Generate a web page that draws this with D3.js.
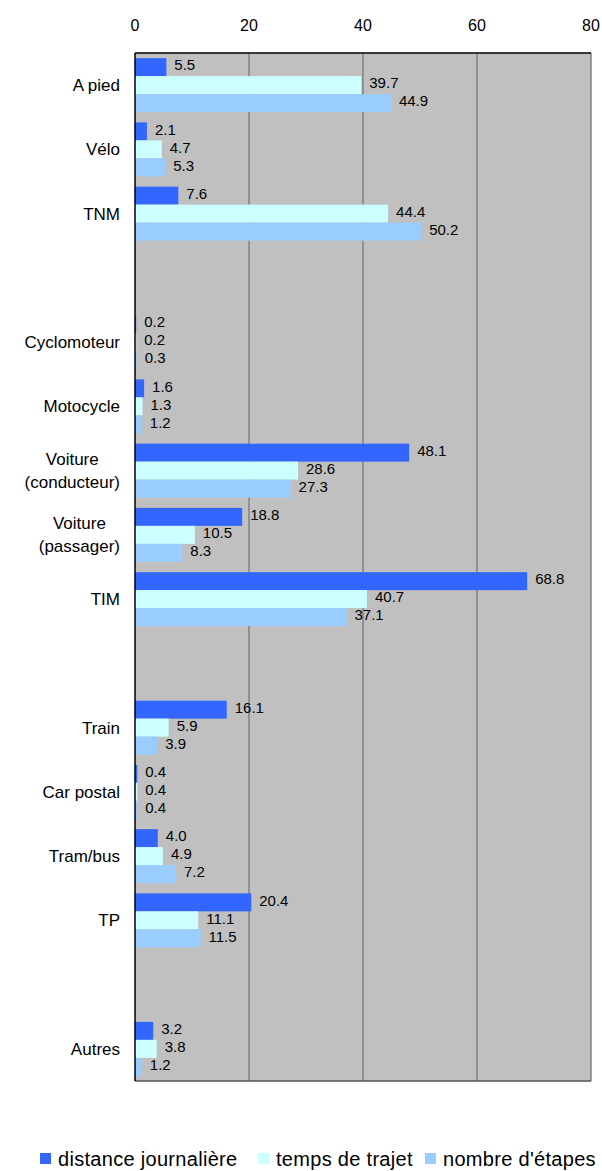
<!DOCTYPE html>
<html>
<head>
<meta charset="utf-8">
<script src="https://cdn.jsdelivr.net/npm/d3@7"></script>
<style>
    body { margin: 0; background: #fff; }
    svg { display: block; font-family: "Liberation Sans", Arial, sans-serif; }
</style>
</head>
<body>
<svg id="chart" width="602" height="1171"></svg>
<script>
// Chart data
const categories = ["A pied", "Vélo", "TNM", "", "Cyclomoteur", "Motocycle",
    "Voiture\n(conducteur)", "Voiture\n(passager)", "TIM", "", "Train",
    "Car postal", "Tram/bus", "TP", "", "Autres"];
const distance = [5.5, 2.1, 7.6, null, 0.2, 1.6, 48.1, 18.8, 68.8, null, 16.1, 0.4, 4.0, 20.4, null, 3.2];
const temps = [39.7, 4.7, 44.4, null, 0.2, 1.3, 28.6, 10.5, 40.7, null, 5.9, 0.4, 4.9, 11.1, null, 3.8];
const etapes = [44.9, 5.3, 50.2, null, 0.3, 1.2, 27.3, 8.3, 37.1, null, 3.9, 0.4, 7.2, 11.5, null, 1.2];
const seriesNames = ["distance journalière", "temps de trajet", "nombre d'étapes"];
const xTicks = [0, 20, 40, 60, 80];

const colors = ["#3366FF", "#CCFFFF", "#99CCFF"];
const seriesValues = [distance, temps, etapes];

const margin = { top: 53, left: 135, right: 11, bottom: 90 };
const width = 602 - margin.left - margin.right;
const height = 1081 - margin.top;

const svg = d3.select("#chart");
const g = svg.append("g").attr("transform", `translate(${margin.left},${margin.top})`);

const x = d3.scaleLinear().domain([0, 80]).range([0, width]);
const y = d3.scaleBand()
    .domain(d3.range(categories.length))
    .range([0, height])
    .paddingInner(0.16)
    .paddingOuter(0.08);
const ys = d3.scaleBand().domain(d3.range(3)).range([0, y.bandwidth()]);

// plot background
g.append("rect")
    .attr("width", width).attr("height", height)
    .attr("fill", "#C0C0C0");

// gridlines
g.selectAll(".grid")
    .data(xTicks.slice(1))
    .enter().append("line")
    .attr("class", "grid")
    .attr("x1", d => x(d)).attr("x2", d => x(d))
    .attr("y1", 0).attr("y2", height)
    .attr("stroke", "#808080").attr("stroke-width", 1.5);

// bars
const rows = categories.map((c, i) => ({ i: i, vals: seriesValues.map(s => s[i]) }));
const groups = g.selectAll(".row")
    .data(rows.filter(r => r.vals[0] !== null))
    .enter().append("g")
    .attr("class", "row")
    .attr("transform", d => `translate(0,${y(d.i)})`);

groups.selectAll("rect")
    .data(d => d.vals.map((v, k) => ({ v: v, k: k })))
    .enter().append("rect")
    .attr("x", 0)
    .attr("y", d => ys(d.k))
    .attr("width", d => x(d.v))
    .attr("height", ys.bandwidth())
    .attr("fill", d => colors[d.k]);

groups.selectAll("text")
    .data(d => d.vals.map((v, k) => ({ v: v, k: k })))
    .enter().append("text")
    .attr("x", d => x(d.v) + 8)
    .attr("y", d => ys(d.k) + ys.bandwidth() / 2 - 2)
    .attr("dy", "0.35em")
    .style("font-size", "15px")
    .attr("fill", "#000")
    .text(d => d.v.toFixed(1));

// axis frame
g.append("line").attr("x1", 0).attr("x2", width).attr("y1", 0).attr("y2", 0)
    .attr("stroke", "#000").attr("stroke-width", 1.5);
g.append("line").attr("x1", 0).attr("x2", width).attr("y1", height).attr("y2", height)
    .attr("stroke", "#555").attr("stroke-width", 1.5);
g.append("line").attr("x1", 0).attr("x2", 0).attr("y1", 0).attr("y2", height)
    .attr("stroke", "#000").attr("stroke-width", 1.5);

// top tick labels
g.selectAll(".tick-label")
    .data(xTicks)
    .enter().append("text")
    .attr("class", "tick-label")
    .attr("x", d => x(d))
    .attr("y", 25 - margin.top)
    .attr("dy", "0.35em")
    .attr("text-anchor", "middle")
    .style("font-size", "16px")
    .text(d => d);

// category labels (multi-line centred on each other, right-aligned block)
const lineH = 23;
categories.forEach((c, i) => {
    if (!c) return;
    const lines = c.split("\n");
    const t = g.append("text")
        .attr("text-anchor", "middle")
        .style("font-size", "17px");
    const spans = lines.map((ln, j) => t.append("tspan")
        .attr("y", y(i) + y.bandwidth() / 2 + (j - (lines.length - 1) / 2) * lineH)
        .attr("dy", "0.35em")
        .text(ln));
    const maxW = d3.max(spans, s => s.node().getComputedTextLength());
    spans.forEach(s => s.attr("x", -15 - maxW / 2));
});

// legend
const legendX = [40, 258, 425];
const legend = svg.append("g").attr("transform", "translate(0,1158)");
seriesNames.forEach((name, k) => {
    legend.append("rect")
        .attr("x", legendX[k]).attr("y", -5)
        .attr("width", 11).attr("height", 11)
        .attr("fill", colors[k]);
    legend.append("text")
        .attr("x", legendX[k] + 18)
        .attr("y", 1)
        .attr("dy", "0.35em")
        .style("font-size", "20px")
        .style("letter-spacing", "0.3px")
        .text(name);
});
</script>
</body>
</html>
